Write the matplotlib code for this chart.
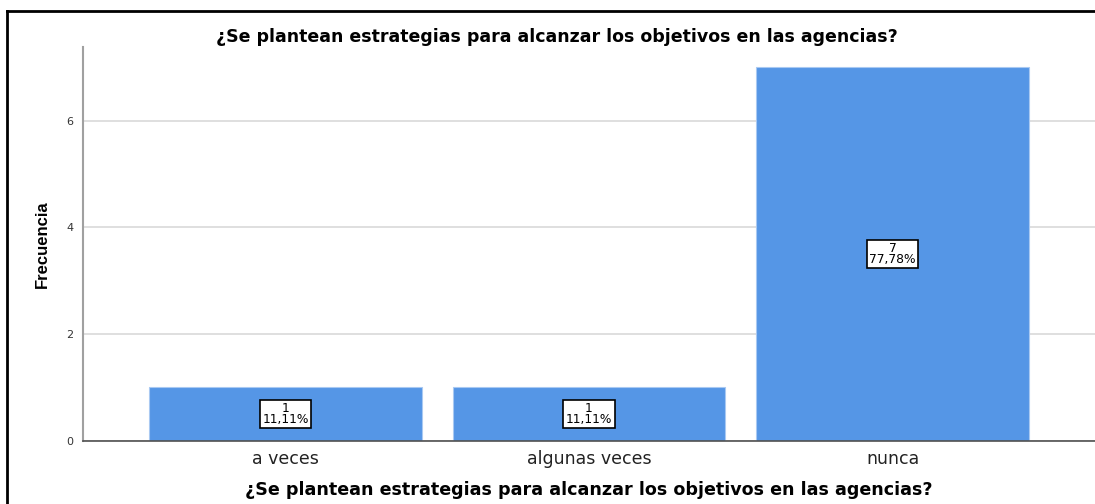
import matplotlib
matplotlib.use('Agg')
import matplotlib.pyplot as plt
from matplotlib.lines import Line2D

# data
categorias = ['a veces', 'algunas veces', 'nunca']
frecuencias = [1, 1, 7]
porcentajes = ['11,11%', '11,11%', '77,78%']
titulo = '¿Se plantean estrategias para alcanzar los objetivos en las agencias?'

plt.rcParams['font.family'] = ['DejaVu Sans']

fig = plt.figure(figsize=(10.95, 5.04), dpi=100)
ax = fig.add_axes([0.0758, 0.1256, 1 - 0.0758, 0.9067 - 0.1256])

pos = list(range(len(categorias)))
ax.bar(pos, frecuencias, width=0.898, color='#5596e6', edgecolor='#a9c9f2',
       linewidth=0.8, zorder=2)

for x, f, p in zip(pos, frecuencias, porcentajes):
    ax.text(x, f / 2, '%d\n%s' % (f, p), ha='center', va='center', fontsize=8.8,
            linespacing=0.72, zorder=3,
            bbox=dict(boxstyle='square,pad=0.2', fc='white', ec='black', lw=1.2))

ax.set_xlim(-0.667, 2.667)
ax.set_ylim(0, 7.38)
ax.set_yticks([0, 2, 4, 6])
ax.yaxis.grid(True, color='#d9d9d9', linewidth=1.2, zorder=0)
ax.set_axisbelow(True)
ax.set_xticks(pos)
ax.set_xticklabels(categorias, fontsize=12.5, color='#222222')
ax.tick_params(axis='x', length=0, pad=7)
ax.tick_params(axis='y', length=0, pad=7, labelsize=8, colors='#333333')
for s in ['top', 'right']:
    ax.spines[s].set_visible(False)
ax.spines['left'].set_color('#a0a0a0')
ax.spines['left'].set_linewidth(1.5)
ax.spines['bottom'].set_color('#505050')
ax.spines['bottom'].set_linewidth(1.2)

ax.set_xlabel(titulo, fontsize=12.6, fontweight='bold', labelpad=9)
ax.set_ylabel('Frecuencia', fontsize=12, fontweight='bold', labelpad=12,
              family='Liberation Sans')
fig.text(0.5087, 1 - 37 / 504, titulo, ha='center', va='center',
         fontsize=12.5, fontweight='bold')

# outer frame (top and left edges)
fig.add_artist(Line2D([7 / 1095, 1], [1 - 11 / 504, 1 - 11 / 504],
                      transform=fig.transFigure, color='black', lw=2))
fig.add_artist(Line2D([7 / 1095, 7 / 1095], [0, 1 - 11 / 504],
                      transform=fig.transFigure, color='black', lw=2))

fig.savefig('out.png', dpi=100)
